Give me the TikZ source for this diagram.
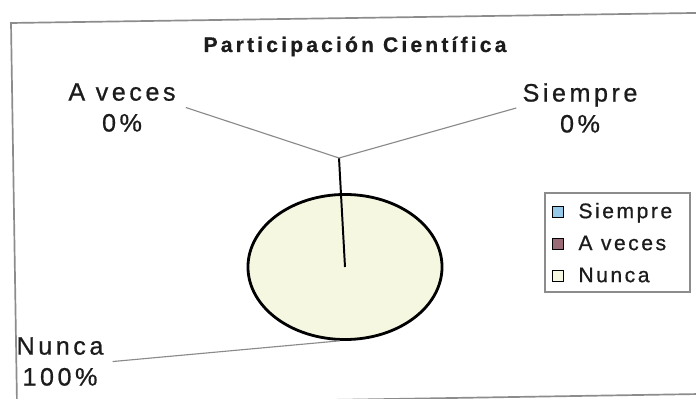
\documentclass[tikz,border=0pt]{standalone}
\usepackage{fontspec}
\setmainfont{Liberation Sans}
\newfontfamily\chartfont[LetterSpace=15, BoldFont={Liberation Sans Bold}, BoldFeatures={FakeBold=0.6}]{Liberation Sans}
\newfontfamily\labelfont[LetterSpace=14, FakeBold=0.7]{Liberation Sans}
\newfontfamily\legendfont[LetterSpace=12, FakeBold=0.7]{Liberation Sans}
\usepackage{tikz}
\usetikzlibrary{shapes.geometric, positioning}
\definecolor{PieCream}{HTML}{F6F7E1}
\definecolor{SiempreBlue}{HTML}{96C8E8}
\definecolor{VecesMauve}{HTML}{9A6A77}
\definecolor{FrameGray}{HTML}{8C8C8C}
\definecolor{LeaderGray}{HTML}{8A8A8A}
\definecolor{InkBlack}{HTML}{1C1C1C}
\tikzset{
  titletext/.style={font=\chartfont\bfseries\fontsize{15}{18}\selectfont, text=InkBlack, inner sep=0pt, anchor=base},
  slicelabel/.style={font=\labelfont\fontsize{17.9}{22}\selectfont, text=InkBlack, inner sep=0pt, align=center, anchor=north},
  piebody/.style={ellipse, draw=black, line width=2pt, fill=PieCream, minimum width=4.85cm, minimum height=3.625cm, inner sep=0pt},
  leader/.style={draw=LeaderGray, line width=0.8pt},
  spoke/.style={draw=black, line width=1.4pt},
  legbox/.style={rectangle, draw=FrameGray, line width=0.8pt, minimum width=3.625cm, minimum height=2.475cm, inner sep=0pt},
  swatch/.style={rectangle, draw=black, line width=1.1pt, minimum size=0.27cm, inner sep=0pt},
  legtext/.style={font=\legendfont\fontsize{15}{17}\selectfont, text=InkBlack, inner sep=0pt, anchor=base west}
}
\begin{document}
\begin{tikzpicture}[x=0.025cm, y=-0.025cm]
  \useasboundingbox (0,0) rectangle (696,399);
  \clip (0,0) rectangle (696,399);
  \fill[white] (0,0) rectangle (696,399);
  % chart frame, the scan is a bit tilted
  \draw[FrameGray, line width=1.2pt] (700,12.9) -- (11,23) -- (17,405) -- (700,394);

  \node[titletext] (title) at (355,52) {Participación Científica};

  \node[slicelabel] (lblaveces) at (122,83) {A veces\\0\%};
  \node[slicelabel] (lblsiempre) at (580,83) {Siempre\\0\%};
  \node[slicelabel] (lblnunca) at (60,337) {Nunca\\100\%};

  \node[piebody] (pie) at (345,267) {};
  \coordinate (hub) at (339,158);

  \draw[spoke] (pie.center) -- (hub);
  \draw[leader] ([xshift=0.25cm]lblaveces.east) -- (hub);
  \draw[leader] (hub) -- ([xshift=-0.15cm]lblsiempre.west);
  \draw[leader] ([xshift=0.225cm]lblnunca.east) -- (pie.266);

  % legend
  \node[legbox] (legend) at (617.5,242.5) {};
  \node[swatch, fill=SiempreBlue] (swsiempre) at (558,212) {};
  \node[swatch, fill=VecesMauve] (swveces) at (558,244) {};
  \node[swatch, fill=PieCream] (swnunca) at (558,276) {};
  \node[legtext] (legsiempre) at ([xshift=0.35cm]swsiempre.south east) {Siempre};
  \node[legtext] (legveces) at ([xshift=0.35cm]swveces.south east) {A veces};
  \node[legtext] (legnunca) at ([xshift=0.35cm]swnunca.south east) {Nunca};
\end{tikzpicture}
\end{document}
